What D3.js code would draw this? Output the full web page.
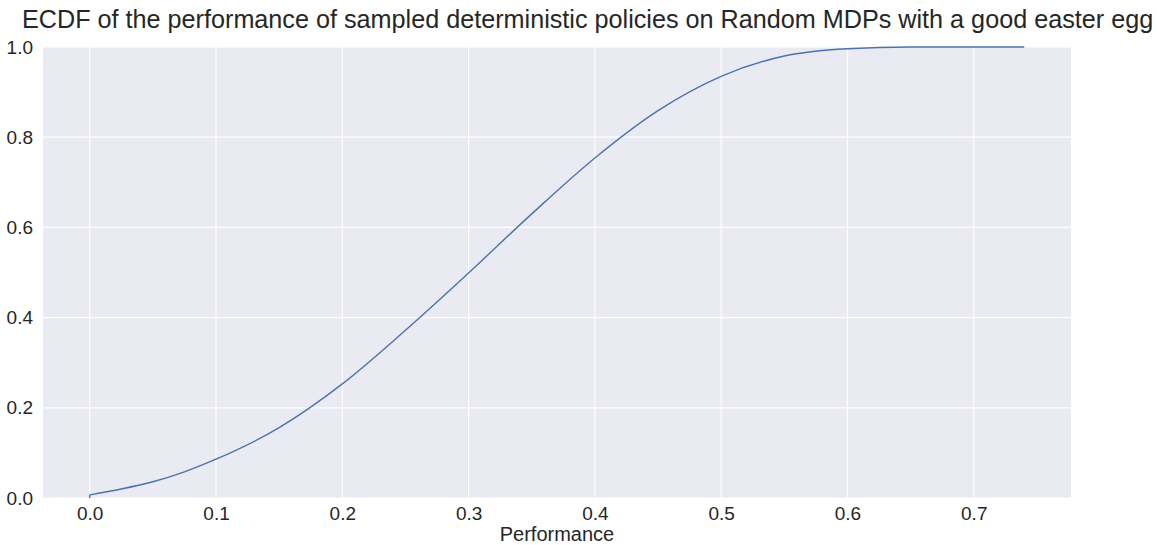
<!DOCTYPE html>
<html>
<head>
<meta charset="utf-8">
<script src="https://cdn.jsdelivr.net/npm/d3@7"></script>
<style>
  body { margin: 0; background: #fff; }
  text { font-family: "Liberation Sans", Arial, sans-serif; fill: #262626; }
</style>
</head>
<body>
<div id="vis"></div>
<script>
// ECDF
var perf = [0.0, 0.025, 0.05, 0.075, 0.1, 0.15, 0.2, 0.25, 0.3, 0.35, 0.4, 0.45, 0.5, 0.55, 0.6, 0.65, 0.7, 0.74];
var prop = [0.007, 0.02, 0.036, 0.058, 0.086, 0.156, 0.253, 0.372, 0.499, 0.630, 0.754, 0.859, 0.935, 0.980, 0.996, 1.0, 1.0, 1.0];
var xTicks = [0.0, 0.1, 0.2, 0.3, 0.4, 0.5, 0.6, 0.7];
var yTicks = [0.0, 0.2, 0.4, 0.6, 0.8, 1.0];
var title = "ECDF of the performance of sampled deterministic policies on Random MDPs with a good easter egg";
var xLabel = "Performance";

var width = 1157, height = 545;
var margin = { top: 47, left: 43, bottom: 47, right: 86 };
var w = width - margin.left - margin.right;
var h = height - margin.top - margin.bottom;

var svg = d3.select('#vis').append('svg')
  .attr('width', width)
  .attr('height', height);

var g = svg.append('g')
  .attr('transform', 'translate(' + margin.left + ',' + margin.top + ')');

// matplotlib style 5% margins on x
var pad = 0.05 * 0.74;
var x = d3.scaleLinear().domain([-pad, 0.74 + pad]).range([0, w]);
var y = d3.scaleLinear().domain([0, 1]).range([h, 0]);

g.append('rect')
  .attr('width', w)
  .attr('height', h)
  .attr('fill', '#EAEAF2');

// grid
g.selectAll('.xgrid').data(xTicks).enter().append('line')
  .attr('x1', function(d) { return x(d); })
  .attr('x2', function(d) { return x(d); })
  .attr('y1', 0).attr('y2', h)
  .attr('stroke', '#fff').attr('stroke-width', 1.2);

g.selectAll('.ygrid').data(yTicks).enter().append('line')
  .attr('y1', function(d) { return y(d); })
  .attr('y2', function(d) { return y(d); })
  .attr('x1', 0).attr('x2', w)
  .attr('stroke', '#fff').attr('stroke-width', 1.2);

// axes (labels only, seaborn darkgrid has no spines/ticks)
var xAxis = g.append('g')
  .attr('transform', 'translate(0,' + h + ')')
  .call(d3.axisBottom(x).tickValues(xTicks).tickFormat(d3.format('.1f')).tickSize(0).tickPadding(9));
var yAxis = g.append('g')
  .call(d3.axisLeft(y).tickValues(yTicks).tickFormat(d3.format('.1f')).tickSize(0).tickPadding(10));
xAxis.select('.domain').remove();
yAxis.select('.domain').remove();
svg.selectAll('.tick text')
  .attr('font-family', '"Liberation Sans", Arial, sans-serif')
  .attr('font-size', 19)
  .attr('fill', '#262626');

// ecdf line: small step at 0, then the smooth part
var pts = perf.map(function(p, i) { return [p, prop[i]]; });
var line = d3.line()
  .x(function(d) { return x(d[0]); })
  .y(function(d) { return y(d[1]); })
  .curve(d3.curveMonotoneX);

g.append('path')
  .datum([[0, 0], pts[0]])
  .attr('fill', 'none')
  .attr('stroke', '#4C72B0')
  .attr('stroke-width', 1.4)
  .attr('d', d3.line().x(function(d) { return x(d[0]); }).y(function(d) { return y(d[1]); }));

g.append('path')
  .datum(pts)
  .attr('fill', 'none')
  .attr('stroke', '#4C72B0')
  .attr('stroke-width', 1.4)
  .attr('stroke-linejoin', 'round')
  .attr('d', line);

svg.append('text')
  .attr('x', 22)
  .attr('y', 28)
  .attr('font-size', 25.2)
  .text(title);

svg.append('text')
  .attr('x', margin.left + x(0.74 / 2) )
  .attr('y', 541)
  .attr('text-anchor', 'middle')
  .attr('font-size', 20)
  .text(xLabel);
</script>
</body>
</html>
